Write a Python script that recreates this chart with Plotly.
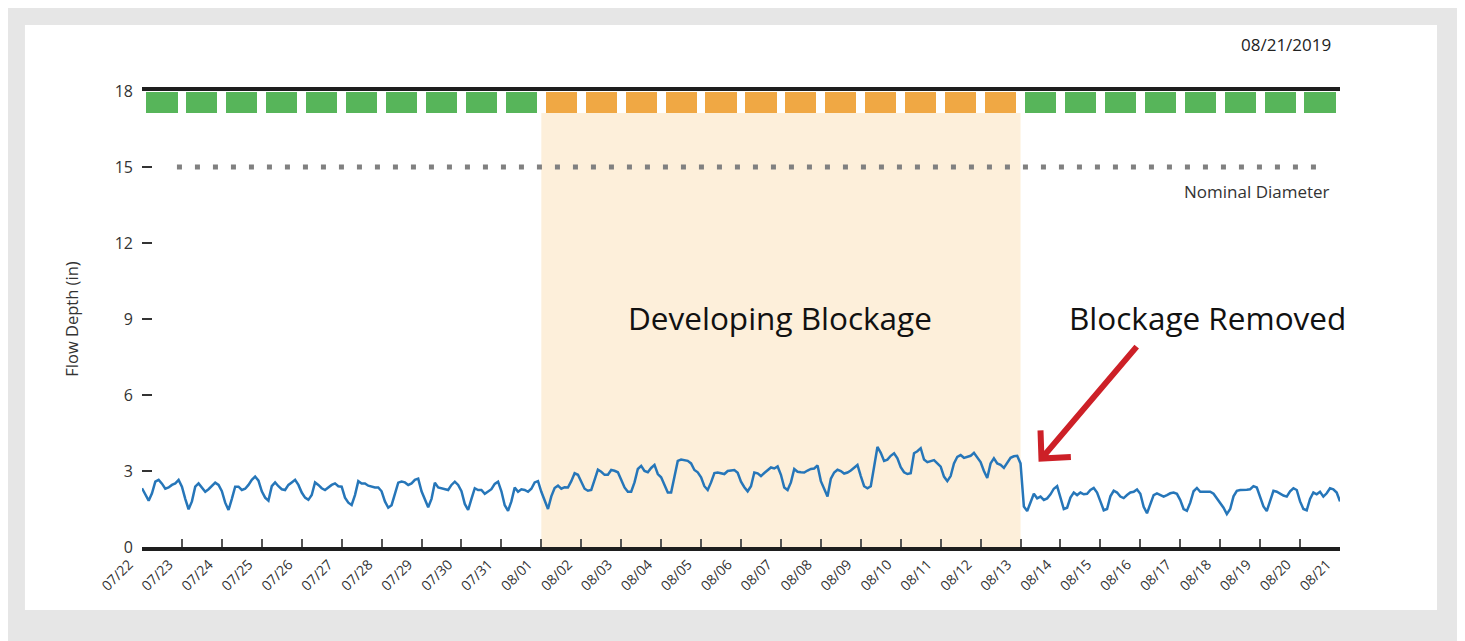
import pandas as pd
import plotly.graph_objects as go

# flow depth (in), 2-hour readings, one row per day 07/22 .. 08/20, plus the 08/21 00:00 reading
depth_by_day = [
    [2.32, 2.10, 1.83, 2.12, 2.58, 2.65, 2.50, 2.30, 2.35, 2.45, 2.51, 2.65],
    [2.38, 1.90, 1.49, 1.80, 2.38, 2.51, 2.35, 2.18, 2.28, 2.40, 2.54, 2.45],
    [2.20, 1.75, 1.46, 1.90, 2.38, 2.38, 2.25, 2.30, 2.45, 2.65, 2.78, 2.62],
    [2.20, 1.95, 1.83, 2.40, 2.55, 2.40, 2.28, 2.25, 2.45, 2.55, 2.65, 2.45],
    [2.15, 1.95, 1.86, 2.05, 2.55, 2.45, 2.32, 2.25, 2.35, 2.45, 2.51, 2.40],
    [2.38, 1.95, 1.75, 1.66, 2.05, 2.60, 2.51, 2.51, 2.42, 2.38, 2.35, 2.35],
    [2.20, 1.80, 1.55, 1.65, 2.10, 2.54, 2.58, 2.55, 2.45, 2.51, 2.65, 2.70],
    [2.20, 1.85, 1.57, 1.90, 2.54, 2.35, 2.32, 2.30, 2.25, 2.45, 2.58, 2.45],
    [2.20, 1.70, 1.46, 1.90, 2.32, 2.25, 2.25, 2.10, 2.18, 2.28, 2.49, 2.58],
    [2.20, 1.65, 1.43, 1.80, 2.35, 2.18, 2.28, 2.25, 2.18, 2.30, 2.55, 2.60],
    [2.18, 1.80, 1.50, 2.00, 2.33, 2.42, 2.30, 2.36, 2.35, 2.60, 2.91, 2.85],
    [2.55, 2.30, 2.22, 2.25, 2.65, 3.05, 2.97, 2.85, 2.85, 3.04, 3.01, 2.95],
    [2.65, 2.35, 2.18, 2.18, 2.55, 3.08, 3.20, 3.00, 2.95, 3.12, 3.24, 2.88],
    [2.75, 2.45, 2.15, 2.15, 2.80, 3.40, 3.45, 3.43, 3.40, 3.30, 3.04, 2.95],
    [2.75, 2.40, 2.25, 2.55, 2.92, 2.94, 2.90, 2.88, 3.00, 3.03, 3.04, 2.93],
    [2.58, 2.36, 2.20, 2.40, 2.94, 2.91, 2.80, 2.92, 3.05, 3.14, 3.10, 3.18],
    [2.85, 2.35, 2.25, 2.55, 3.08, 2.97, 2.95, 2.94, 3.02, 3.08, 3.10, 3.22],
    [2.60, 2.30, 1.99, 2.70, 2.94, 3.05, 3.00, 2.90, 2.94, 3.02, 3.12, 3.24],
    [2.80, 2.40, 2.32, 2.40, 3.17, 3.95, 3.72, 3.40, 3.45, 3.60, 3.70, 3.50],
    [3.15, 2.95, 2.88, 2.91, 3.70, 3.78, 3.90, 3.45, 3.35, 3.38, 3.43, 3.30],
    [3.17, 2.78, 2.60, 2.80, 3.30, 3.56, 3.63, 3.52, 3.55, 3.60, 3.72, 3.55],
    [3.35, 3.00, 2.72, 3.30, 3.50, 3.30, 3.24, 3.12, 3.30, 3.52, 3.58, 3.60],
    [3.30, 1.60, 1.42, 1.80, 2.10, 1.92, 1.99, 1.86, 1.92, 2.08, 2.30, 2.40],
    [1.95, 1.50, 1.55, 1.95, 2.15, 2.05, 2.15, 2.08, 2.10, 2.25, 2.33, 2.15],
    [1.80, 1.45, 1.50, 2.00, 2.22, 2.15, 1.99, 1.93, 2.05, 2.15, 2.18, 2.27],
    [2.10, 1.59, 1.33, 1.66, 2.05, 2.12, 2.05, 1.99, 2.05, 2.12, 2.15, 2.10],
    [1.85, 1.50, 1.43, 1.75, 2.20, 2.33, 2.18, 2.18, 2.18, 2.18, 2.10, 1.92],
    [1.75, 1.55, 1.30, 1.50, 2.00, 2.22, 2.25, 2.25, 2.26, 2.28, 2.40, 2.35],
    [2.00, 1.60, 1.42, 1.80, 2.22, 2.18, 2.10, 2.03, 1.99, 2.20, 2.32, 2.25],
    [1.80, 1.50, 1.45, 1.90, 2.15, 2.08, 2.18, 1.99, 2.12, 2.32, 2.28, 2.15],
]
last_depth = 1.80

# daily status squares along the top
day_status = [
    "ok", "ok", "ok", "ok", "ok", "ok", "ok", "ok", "ok", "ok",
    "warn", "warn", "warn", "warn", "warn", "warn",
    "warn", "warn", "warn", "warn", "warn", "warn",
    "ok", "ok", "ok", "ok", "ok", "ok", "ok", "ok",
]
status_colors = {"ok": "#57b55a", "warn": "#f0a844"}

nominal_diameter = 15
blockage_start = "2019-08-01"
blockage_end = "2019-08-13"

start = pd.Timestamp("2019-07-22")
depth = [v for day in depth_by_day for v in day] + [last_depth]
times = pd.date_range(start, periods=len(depth), freq="2h")
days = pd.date_range(start, periods=len(day_status), freq="D")

fig = go.Figure()

# status squares
fig.add_trace(go.Bar(
    x=days + pd.Timedelta(hours=12),
    y=[0.82] * len(days),
    base=17.13,
    width=0.78 * 86400000,
    marker=dict(color=[status_colors[s] for s in day_status], line_width=0),
    hoverinfo="skip",
))

fig.add_trace(go.Scatter(
    x=times, y=depth, mode="lines",
    line=dict(color="#2676b9", width=2.5),
    hoverinfo="skip",
))

# gray card + white panel
fig.add_shape(type="rect", xref="paper", yref="paper",
              x0=-0.0977, x1=1.081, y0=-0.138, y1=1.1447,
              fillcolor="white", line_width=0, layer="below")

# developing blockage band
fig.add_shape(type="rect", xref="x", yref="y",
              x0=blockage_start, x1=blockage_end, y0=0, y1=17.13,
              fillcolor="#fdefda", line_width=0, layer="below")

# nominal diameter dotted line
fig.add_shape(type="line", xref="x", yref="y",
              x0="2019-07-22 21:00", x1="2019-08-20 14:00",
              y0=nominal_diameter, y1=nominal_diameter,
              line=dict(color="#808080", width=5, dash="5px,13px"))

# red arrow
fig.add_shape(type="path", xref="x", yref="y",
              path="M 2019-08-15_21:49,7.91 L 2019-08-13_12:35,3.49 "
                   "M 2019-08-13_12:00,4.6 L 2019-08-13_12:35,3.49 L 2019-08-14_06:15,3.55",
              line=dict(color="#cd2027", width=6))

font_main = "Open Sans, Arial, sans-serif"

fig.add_annotation(text="Nominal Diameter", xref="paper", x=0.9933, xanchor="right",
                   yref="y", y=14.05, showarrow=False,
                   font=dict(size=17, color="#333333", family=font_main))
fig.add_annotation(text="08/21/2019", xref="paper", x=0.9942, xanchor="right",
                   yref="paper", y=1.1009, yanchor="middle", showarrow=False,
                   font=dict(size=17, color="#222222", family=font_main))
fig.add_annotation(text="Developing Blockage", xref="paper", x=0.5326, xanchor="center",
                   yref="y", y=9.04, showarrow=False,
                   font=dict(size=31.5, color="#111111", family=font_main))
fig.add_annotation(text="Blockage Removed", xref="paper", x=0.889, xanchor="center",
                   yref="y", y=9.04, showarrow=False,
                   font=dict(size=31.5, color="#111111", family=font_main))

fig.update_layout(
    width=1457, height=633,
    margin=dict(l=134, r=125, t=83, b=94),
    paper_bgcolor="#e6e6e6",
    plot_bgcolor="rgba(0,0,0,0)",
    showlegend=False,
    bargap=0,
    font=dict(family=font_main, color="#333333"),
    xaxis=dict(
        type="date",
        range=[start, pd.Timestamp("2019-08-21")],
        tick0=start, dtick=86400000, tickformat="%m/%d",
        tickangle=-45, ticklabelshift=-13,
        ticks="inside", ticklen=8, tickwidth=1.5, tickcolor="#555555",
        showline=True, linecolor="#1e1e1e", linewidth=3.5, mirror=True,
        showgrid=False, zeroline=False,
        tickfont=dict(size=14, color="#333333"),
    ),
    yaxis=dict(
        range=[0, 18], tickvals=[0, 3, 6, 9, 12, 15, 18],
        ticks="inside", ticklen=10, tickwidth=1.5, tickcolor="#333333",
        ticklabelstandoff=8,
        showline=False, showgrid=False, zeroline=False,
        tickfont=dict(size=16, color="#333333"),
        title=dict(text="Flow Depth (in)", standoff=31,
                   font=dict(size=16.5, color="#333333")),
    ),
)

fig.write_html("out.html")
